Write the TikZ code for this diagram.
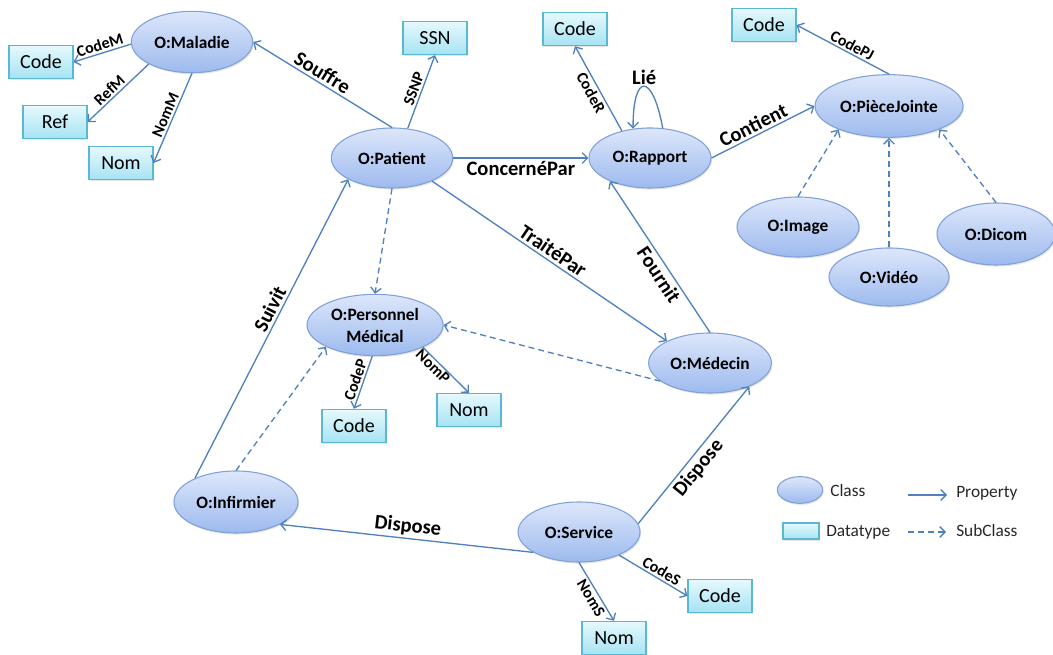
\documentclass[tikz,border=0pt]{standalone}
\usepackage{fontspec}
\setmainfont{Carlito}
\usetikzlibrary{shapes.geometric,arrows.meta,shadows}
\definecolor{edgeblue}{HTML}{4F81BD}
\definecolor{ellborder}{HTML}{7FA0D8}
\definecolor{elltop}{HTML}{DDE7FB}
\definecolor{ellbot}{HTML}{9DBAEE}
\definecolor{boxborder}{HTML}{5BB8D4}
\definecolor{boxtop}{HTML}{E6F9FD}
\definecolor{boxbot}{HTML}{A6E3F3}
\tikzset{
  cls/.style={ellipse, draw=ellborder, line width=0.8pt, top color=elltop, bottom color=ellbot,
    inner sep=0pt, align=center, font=\fontsize{13}{16.5}\selectfont\bfseries,
    drop shadow={shadow xshift=0.8pt, shadow yshift=-1.2pt, opacity=0.2}},
  dtype/.style={rectangle, draw=boxborder, line width=0.8pt, top color=boxtop, bottom color=boxbot,
    minimum width=48pt, minimum height=25pt, inner sep=0pt, font=\fontsize{15}{17}\selectfont,
    drop shadow={shadow xshift=0.8pt, shadow yshift=-1.2pt, opacity=0.2}},
  prop/.style={draw=edgeblue, line width=1pt, -{Straight Barb[length=4pt,width=8pt]}},
  sub/.style={prop, dash pattern=on 4.5pt off 3pt},
  biglbl/.style={font=\fontsize{15.4}{17}\selectfont\bfseries, inner sep=2pt, text=black},
  smalllbl/.style={font=\fontsize{12}{14}\selectfont\bfseries, inner sep=1.5pt, text=black},
  legtext/.style={font=\fontsize{13}{15}\selectfont, inner sep=0pt, anchor=base west, text=black!85}
}
\begin{document}
\begin{tikzpicture}[x=0.75pt,y=-0.75pt]
\useasboundingbox (0,0) rectangle (1053,655);
% classes
\node[cls, minimum width=91pt, minimum height=46pt] (mal) at (192,42) {O:Maladie};
\node[cls, minimum width=91pt, minimum height=45pt] (pat) at (392,158) {O:Patient};
\node[cls, minimum width=91.5pt, minimum height=45pt] (rap) at (650,158) {O:Rapport};
\node[cls, minimum width=111pt, minimum height=47pt] (pj) at (889,106) {O:PièceJointe};
\node[cls, minimum width=91.5pt, minimum height=45pt] (img) at (798,227) {O:Image};
\node[cls, minimum width=90pt, minimum height=43.5pt] (vid) at (889,277) {O:Vidéo};
\node[cls, minimum width=88.5pt, minimum height=46.5pt] (dic) at (996,234) {O:Dicom};
\node[cls, minimum width=102pt, minimum height=46pt] (pm) at (375,325) {O:Personnel\\Médical};
\node[cls, minimum width=92pt, minimum height=45pt] (med) at (710,363) {O:Médecin};
\node[cls, minimum width=93pt, minimum height=46.5pt] (inf) at (236,502) {O:Infirmier};
\node[cls, minimum width=91.5pt, minimum height=45pt] (svc) at (579,532) {O:Service};
% datatypes
\node[dtype] (codem) at (41,62) {Code};
\node[dtype] (ref) at (55,122) {Ref};
\node[dtype] (nomm) at (121,163) {Nom};
\node[dtype] (ssn) at (435,38) {SSN};
\node[dtype] (coder) at (575,29) {Code};
\node[dtype] (codepj) at (764,25) {Code};
\node[dtype] (codep) at (354,426) {Code};
\node[dtype] (nomp) at (469,410) {Nom};
\node[dtype] (codes) at (720,596) {Code};
\node[dtype] (noms) at (614,638) {Nom};
% properties
\draw[prop] (mal.182) -- (codem.east) node[smalllbl, midway, sloped, above]{CodeM};
\draw[prop] (mal.207) -- (ref.east) node[smalllbl, pos=.55, sloped, above]{RefM};
\draw[prop] (mal.south) -- (nomm.east) node[smalllbl, midway, sloped, above]{NomM};
\draw[prop] (pat.north) -- (mal.east) node[biglbl, pos=.54, sloped, above]{Souffre};
\draw[prop] (pat.62) -- (ssn.south) node[smalllbl, midway, sloped, above]{SSNP};
\draw[prop] (pat.east) -- (rap.west) node[biglbl, midway, below]{ConcernéPar};
\draw[prop] (rap.136) -- (coder.south) node[smalllbl, midway, sloped, below]{CodeR};
\draw[prop] (rap.67) .. controls +(-10,-55) and +(0,-57) .. (rap.120) node[biglbl, pos=.5, above, inner sep=1pt]{Lié};
\draw[prop] (rap.east) -- (pj.west) node[biglbl, pos=.45, sloped, above]{Contient};
\draw[prop] (pj.north) -- (codepj.east) node[smalllbl, pos=.44, sloped, above]{CodePJ};
\draw[sub] (img.north) -- (pj.205);
\draw[sub] (vid.north) -- (pj.south);
\draw[sub] (dic.north) -- (pj.335);
\draw[sub] (pat.south) -- (pm.north);
\draw[prop] (pat.330) -- (med.153) node[biglbl, pos=.49, sloped, above]{TraitéPar};
\draw[prop] (med.north) -- (rap.210) node[biglbl, pos=.42, sloped, below]{Fournit};
\draw[sub] (med.200) -- (pm.east);
\draw[prop] (inf.150) -- (pat.206) node[biglbl, pos=.55, sloped, above]{Suivit};
\draw[sub] (inf.north) -- (pm.204);
\draw[prop] (svc.204) -- (inf.333) node[biglbl, pos=.5, sloped, above]{Dispose};
\draw[prop] (svc.8) -- (med.329) node[biglbl, pos=.46, sloped, below]{Dispose};
\draw[prop] (svc.south) -- (noms.north) node[smalllbl, pos=.54, sloped, below]{NomS};
\draw[prop] (svc.330) -- (codes.west) node[smalllbl, pos=.56, sloped, above]{CodeS};
\draw[prop] (pm.265) -- (codep.north) node[smalllbl, pos=.5, sloped, above]{CodeP};
\draw[prop] (pm.335) -- (nomp.north) node[smalllbl, pos=.32, sloped, below, inner sep=0.5pt]{NomP};
% legend
\node[cls, minimum width=34pt, minimum height=20pt] (lc) at (800,490) {};
\node[legtext] (lct) at (830,497) {Class};
\coordinate (pa) at (908,495);
\coordinate (pb) at (947,495);
\draw[prop] (pa) -- (pb);
\node[legtext] (lpt) at (956,498) {Property};
\node[dtype, minimum width=27pt, minimum height=12pt] (ld) at (801,531) {};
\node[legtext] (ldt) at (826,537) {Datatype};
\coordinate (sa) at (908,532);
\coordinate (sb) at (946,532);
\draw[sub] (sa) -- (sb);
\node[legtext] (lst) at (956,537) {SubClass};
\end{tikzpicture}
\end{document}
